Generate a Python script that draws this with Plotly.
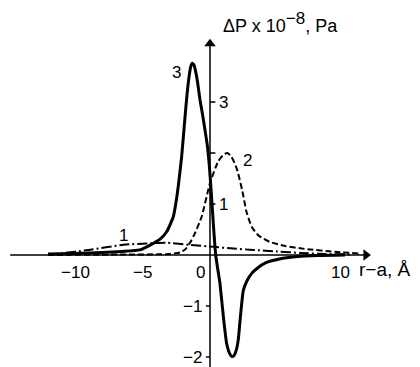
import plotly.graph_objects as go

# Distance from the surface, r - a (Å), and pressure difference ΔP (×10^-8 Pa)
x_curve1 = [-12.0, -11.4, -9.0, -6.4, -4.4, -3.2, -1.5, 0.25, 1.5, 3.2, 5.0, 6.7, 8.5, 10.5]
y_curve1 = [0.0, 0.02, 0.1, 0.2, 0.23, 0.24, 0.2, 0.16, 0.13, 0.1, 0.07, 0.04, 0.02, 0.01]

x_curve2 = [-12.0, -6.0, -3.0, -2.2, -1.8, -1.48, -1.11, -0.62, 0.0, 0.6, 1.0, 1.3, 1.6, 2.0, 2.4,
            2.7, 3.1, 3.6, 4.4, 5.5, 7.0, 9.4, 11.0]
y_curve2 = [0.0, 0.01, 0.02, 0.05, 0.12, 0.24, 0.43, 0.75, 1.41, 1.83, 1.97, 2.0, 1.92, 1.68, 1.25,
            0.85, 0.55, 0.38, 0.26, 0.18, 0.12, 0.06, 0.03]

x_curve3 = [-12.0, -10.0, -8.0, -6.5, -5.2, -4.4, -3.7, -3.2, -2.72, -2.55, -2.35, -2.1, -1.85,
            -1.7, -1.55, -1.42, -1.31, -1.18, -1.05, -0.9, -0.74, -0.55, -0.37, -0.2, -0.05,
            0.1, 0.25, 0.42, 0.6, 0.74, 0.99, 1.23, 1.45, 1.62, 1.78, 1.95, 2.1, 2.22, 2.35,
            2.47, 2.75, 3.09, 3.5, 4.07, 5.3, 6.5, 8.0, 10.0]
y_curve3 = [0.02, 0.03, 0.05, 0.07, 0.1, 0.2, 0.31, 0.46, 0.75, 0.98, 1.35, 1.93, 2.71,
            3.15, 3.5, 3.7, 3.76, 3.72, 3.58, 3.35, 3.04, 2.75, 2.45, 2.15, 1.75,
            1.2, 0.6, 0.0, -0.32, -0.56, -1.21, -1.73, -1.93, -1.99, -1.97, -1.86, -1.65, -1.3, -0.95,
            -0.69, -0.5, -0.36, -0.26, -0.16, -0.07, -0.03, -0.01, 0.0]

x_tick_vals = [-10, -5, 0, 10]
x_tick_text = ["\u221210", "\u22125", "0", "10"]
y_tick_vals = [3, 2, 1, -1, -2]
y_tick_text = ["3", "", "1", "\u22121", "\u22122"]

curve_labels = ["1", "2", "3"]
label_x = [-6.4, 2.75, -2.5]
label_y = [0.38, 1.86, 3.58]

# Axis extents (data units)
X_AXIS = [-14.8, 11.55]
Y_AXIS = [-2.3, 4.14]

FONT = "Liberation Sans"
INK = "black"

fig = go.Figure()

fig.add_trace(go.Scatter(x=x_curve1, y=y_curve1, mode="lines",
                         line=dict(color=INK, width=2, dash="10px,3px,2px,3px", shape="spline", smoothing=0.6)))
fig.add_trace(go.Scatter(x=x_curve2, y=y_curve2, mode="lines",
                         line=dict(color=INK, width=2, dash="6px,3px", shape="spline", smoothing=0.6)))
fig.add_trace(go.Scatter(x=x_curve3, y=y_curve3, mode="lines",
                         line=dict(color=INK, width=3, shape="spline", smoothing=0.5)))

# Arrowheads at the ends of both axes
fig.add_trace(go.Scatter(x=[X_AXIS[1]], y=[0], mode="markers",
                         marker=dict(symbol="triangle-right", size=10, color=INK, line=dict(width=0))))
fig.add_trace(go.Scatter(x=[0], y=[Y_AXIS[1]], mode="markers",
                         marker=dict(symbol="triangle-up", size=10, color=INK, line=dict(width=0))))

shapes = [
    dict(type="line", xref="x", yref="y", x0=X_AXIS[0], x1=X_AXIS[1], y0=0, y1=0,
         line=dict(color=INK, width=1.5), layer="below"),
    dict(type="line", xref="x", yref="y", x0=0, x1=0, y0=Y_AXIS[0], y1=Y_AXIS[1],
         line=dict(color=INK, width=1.5), layer="below"),
]
# y tick marks: right of the axis above zero, left of it below
for v in y_tick_vals:
    if v > 0:
        shapes.append(dict(type="line", xref="x", yref="y", x0=0, x1=0.4, y0=v, y1=v,
                           line=dict(color=INK, width=1.5)))
    else:
        shapes.append(dict(type="line", xref="x", yref="y", x0=-0.3, x1=0, y0=v, y1=v,
                           line=dict(color=INK, width=1.5)))

annotations = []

# y tick labels
for v, t in zip(y_tick_vals, y_tick_text):
    if not t:
        continue
    if v > 0:
        annotations.append(dict(x=0.55, y=v, xref="x", yref="y", text=t, showarrow=False,
                                xanchor="left", yanchor="middle", font=dict(family=FONT, size=17, color=INK)))
    else:
        annotations.append(dict(x=-0.45, y=v, xref="x", yref="y", text=t, showarrow=False,
                                xanchor="right", yanchor="middle", font=dict(family=FONT, size=17, color=INK)))

# x tick labels
for v, t in zip(x_tick_vals, x_tick_text):
    xv = {0: -0.7, 10: 9.7}.get(v, v)
    annotations.append(dict(x=xv, y=-0.12, xref="x", yref="y", text=t, showarrow=False,
                            xanchor="center", yanchor="top", font=dict(family=FONT, size=17, color=INK)))

# Curve numbers
for t, lx, ly in zip(curve_labels, label_x, label_y):
    annotations.append(dict(x=lx, y=ly, xref="x", yref="y", text=t, showarrow=False,
                            xanchor="center", yanchor="middle", font=dict(family=FONT, size=17, color=INK)))

# Axis titles
annotations.append(dict(x=0.8, y=4.25, xref="x", yref="y",
                        text="\u0394P x 10<sup><span style='font-size:17px'>\u22128</span></sup>, Pa",
                        showarrow=False, xanchor="left", yanchor="bottom",
                        font=dict(family=FONT, size=18, color=INK)))
annotations.append(dict(x=10.9, y=-0.03, xref="x", yref="y", text="r\u2212a, \u00c5",
                        showarrow=False, xanchor="left", yanchor="top",
                        font=dict(family=FONT, size=19, color=INK)))

fig.update_layout(
    width=420, height=367,
    margin=dict(l=0, r=0, t=0, b=0),
    paper_bgcolor="white", plot_bgcolor="white",
    showlegend=False,
    xaxis=dict(range=[-210 / 13.5, 210 / 13.5], visible=False, fixedrange=True),
    yaxis=dict(range=[-112 / 51, 255 / 51], visible=False, fixedrange=True),
    annotations=annotations,
    shapes=shapes,
)

fig.write_html("out.html")
